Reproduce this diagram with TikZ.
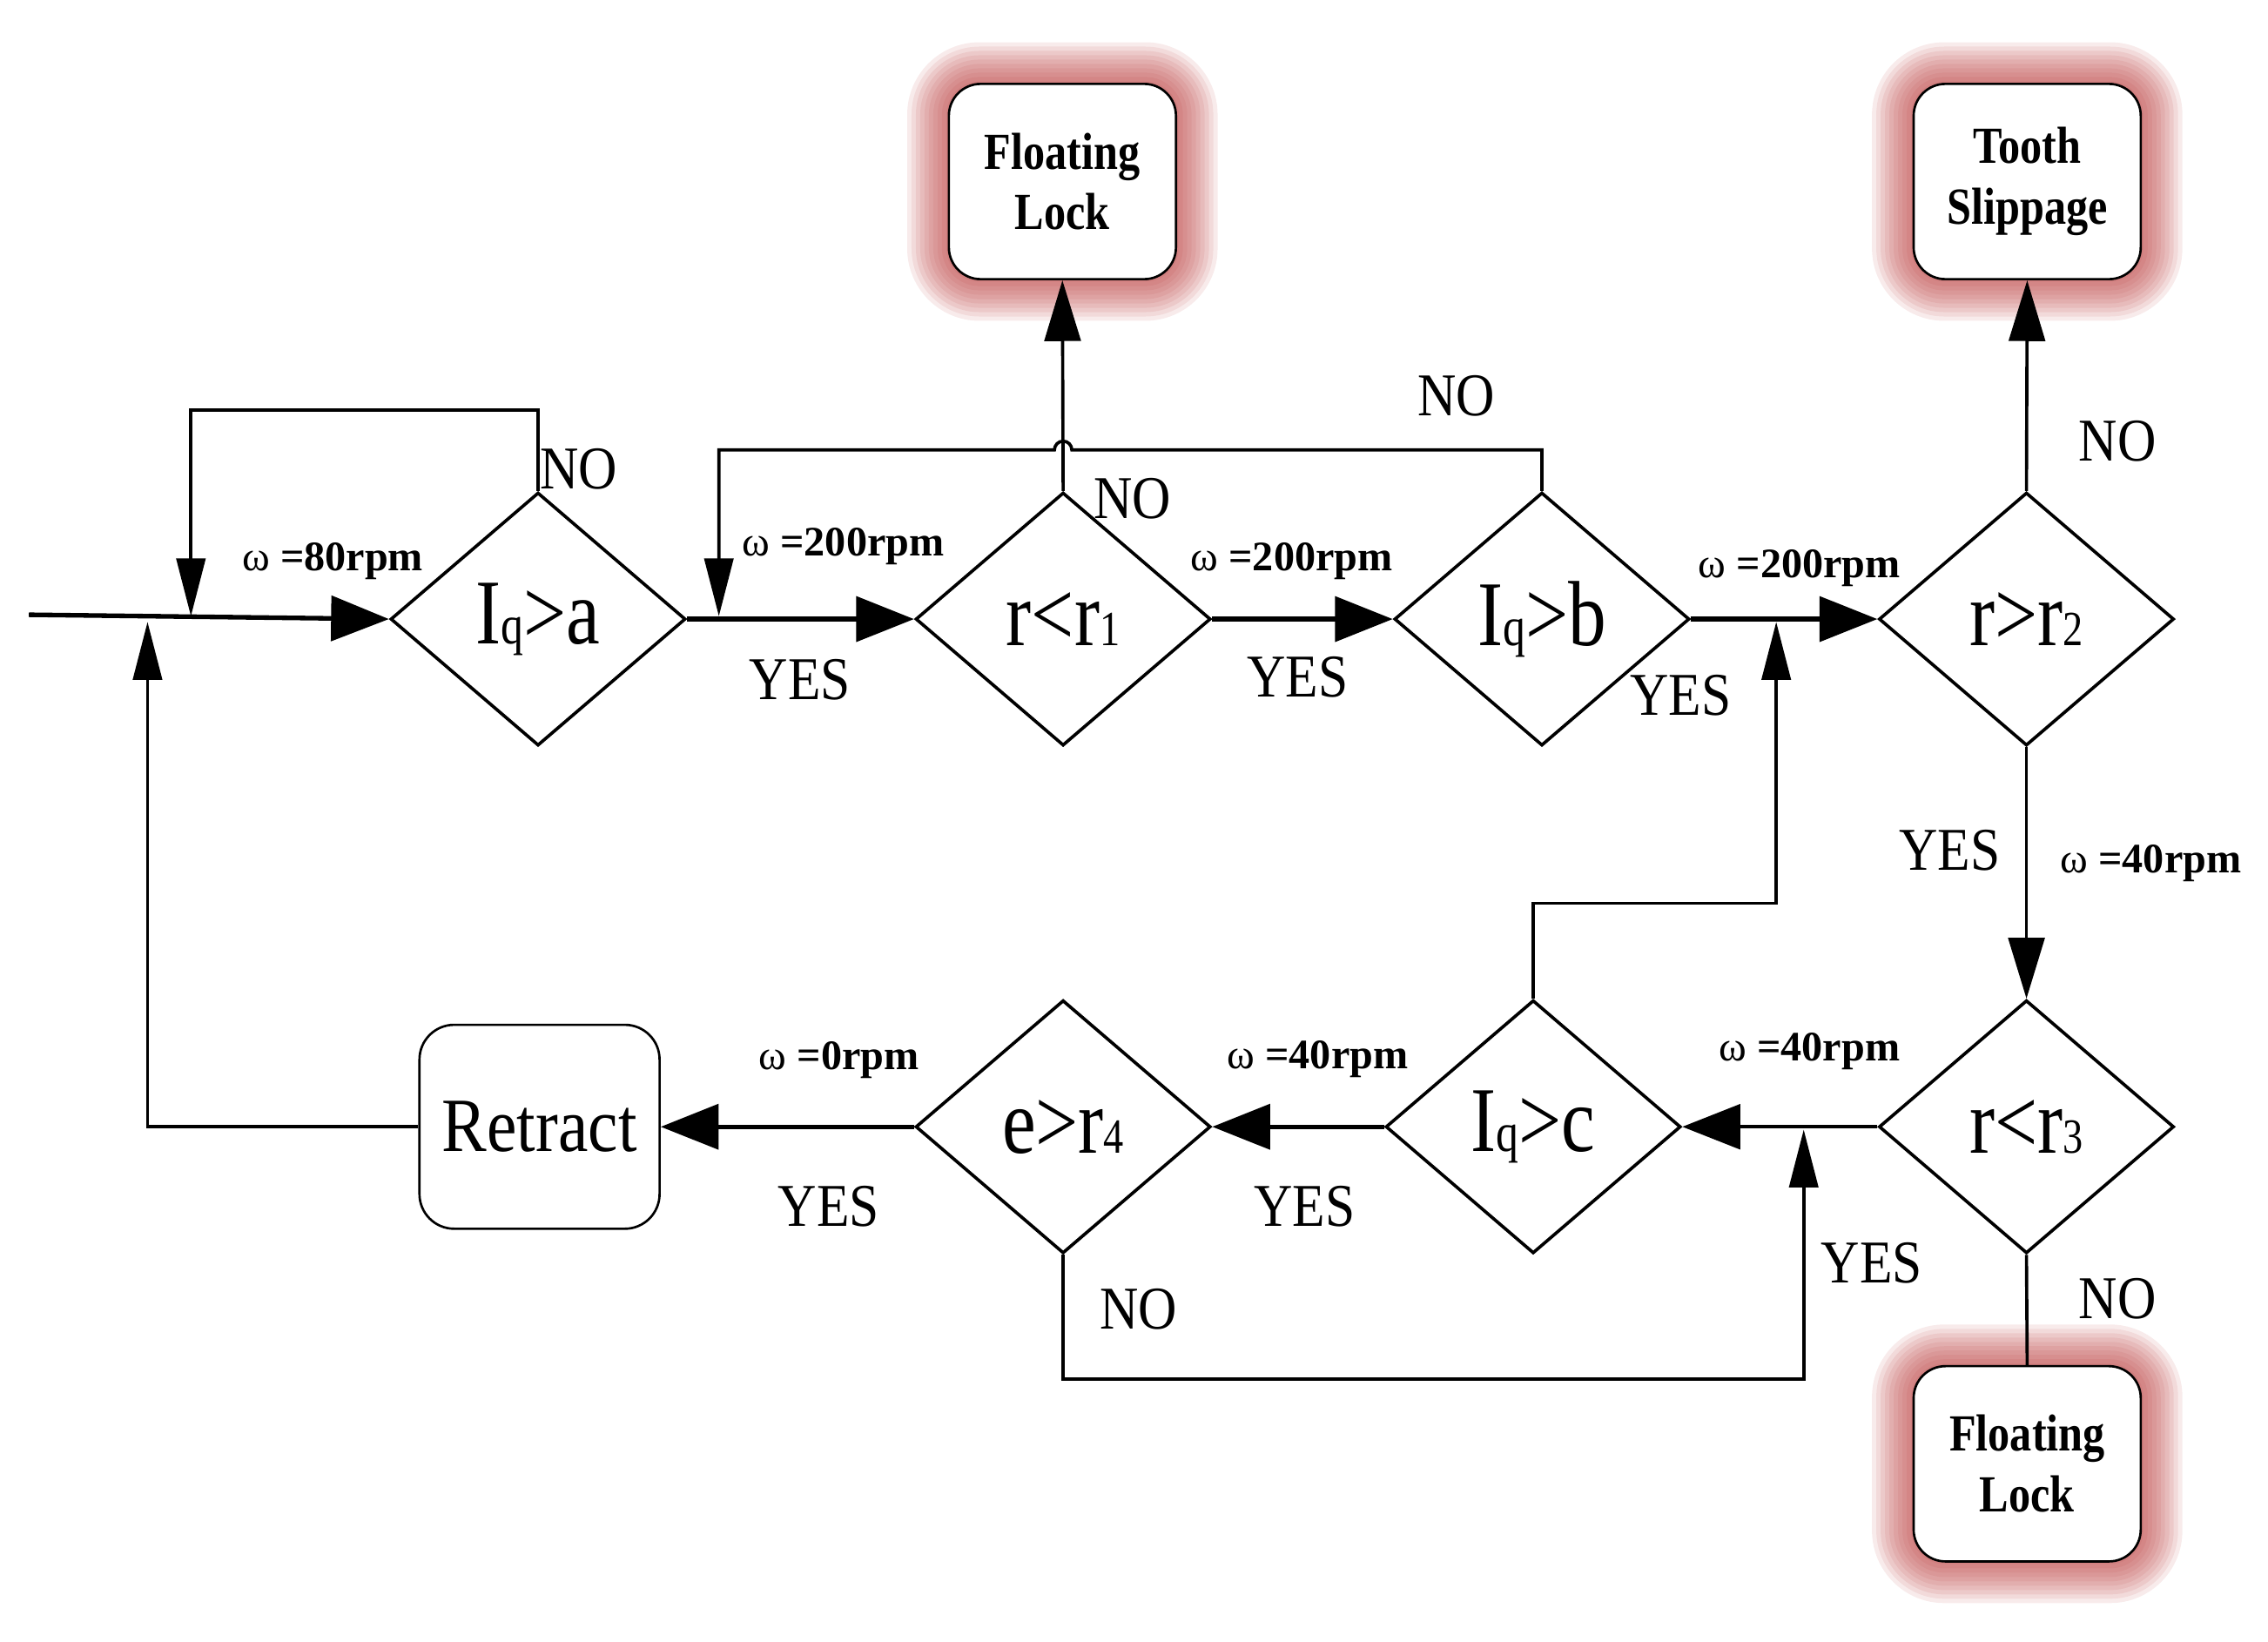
\documentclass[tikz,border=0pt]{standalone}
\usepackage{fontspec}
\setmainfont{Liberation Serif}
\newfontfamily\condfont[FakeStretch=0.88]{Liberation Serif}
\newfontfamily\boxfont[FakeStretch=0.84]{Liberation Serif}
\newfontfamily\decfont[FakeStretch=0.82]{Liberation Serif}
\usetikzlibrary{arrows.meta,shapes.geometric,backgrounds}
\definecolor{glow}{RGB}{185,60,60}
\newcommand{\subq}[1]{{\fontsize{19pt}{20pt}\selectfont #1}}
\newcommand{\subn}[1]{{\fontsize{17pt}{18pt}\selectfont #1}}
\begin{document}
\begin{tikzpicture}[x=0.5pt,y=-0.5pt,
  line/.style={line width=1.1pt},
  mainline/.style={line width=1.6pt},
  arrH/.style={-{Triangle[length=20pt,width=15.5pt]}},
  arrV/.style={-{Triangle[length=21pt,width=12.5pt]}},
  arrS/.style={-{Triangle[length=20pt,width=10pt]}},
  dec/.style={draw, diamond, line width=1.1pt, minimum width=102pt, minimum height=87.5pt, inner sep=0pt, font=\decfont\fontsize{32pt}{34pt}\selectfont},
  endbox/.style={draw, fill=white, line width=0.8pt, rounded corners=11pt, minimum width=78.5pt, minimum height=67.5pt, align=center, inner sep=0pt, font=\boxfont\bfseries\fontsize{18pt}{21pt}\selectfont},
  retbox/.style={draw, fill=white, line width=0.8pt, rounded corners=12pt, minimum width=83pt, minimum height=70.5pt, inner sep=0pt, font=\condfont\fontsize{26.5pt}{28pt}\selectfont},
  lbl/.style={inner sep=0pt, font=\condfont\fontsize{21pt}{22pt}\selectfont},
  rpm/.style={inner sep=0pt, font=\bfseries\fontsize{14.5pt}{15pt}\selectfont}]
\useasboundingbox (0,0) rectangle (1568,1135);

% decisions
\node[dec] (d1) at (372,428) {I\subq{q}>a};
\node[dec] (d2) at (735,428) {r<r\subn{1}};
\node[dec] (d3) at (1066,428) {I\subq{q}>b};
\node[dec] (d4) at (1401,428) {r>r\subn{2}};
\node[dec] (d5) at (1401,779) {r<r\subn{3}};
\node[dec] (d6) at (1060,779) {I\subq{q}>c};
\node[dec] (d7) at (735,779) {e>r\subn{4}};

% end boxes
\node[endbox] (fl1) at (734.5,125.5) {Floating\\Lock};
\node[endbox] (ts) at (1401.5,125.5) {Tooth\\Slippage};
\node[endbox] (fl2) at (1401.5,1012) {Floating\\Lock};
\node[retbox] (retract) at (373,779) {Retract};

\begin{scope}[on background layer]
\foreach \b in {fl1,ts,fl2}{
  \foreach \d [evaluate=\d as \r using 11+\d/2] in {28,25,...,1}{
    \fill[glow,opacity=0.1,rounded corners=\r pt] ([shift={(-\d,-\d)}]\b.north west) rectangle ([shift={(\d,\d)}]\b.south east);
  }
}
\end{scope}

% junction points
\coordinate (start) at (20,425);
\coordinate (j1) at (132,426);
\coordinate (j2) at (497,426);
\coordinate (j3) at (1228,430);
\coordinate (j4) at (1247,781);
\coordinate (j5) at (102,430);

% main flow
\draw[mainline,arrH] (start) -- (d1.west);
\draw[mainline,arrH] (d1.east) -- (d2.west);
\draw[mainline,arrH] (d2.east) -- (d3.west);
\draw[mainline,arrH] (d3.east) -- (d4.west);
\draw[line,arrV] (d2.north) -- (fl1.south);
\draw[line,arrV] (d4.north) -- (ts.south);
\draw[line,arrV] (d4.south) -- (d5.north);
\draw[line] (d5.south) -- (fl2.north);
\draw[line,arrH] (d5.west) -- (d6.east);
\draw[mainline,arrH] (d6.west) -- (d7.east);
\draw[mainline,arrH] (d7.west) -- (retract.east);

% loops
\draw[line,arrS] (d1.north) -- ++(0,-56) -| (j1);
\draw[line,arrS] (d3.north) |- (741,311) arc[start angle=0,end angle=180,radius=3pt] -| (j2);
\draw[line,arrS] (d6.north) -- ++(0,-66) -| (j3);
\draw[line,arrS] (d7.south) -- ++(0,86) -| (j4);
\draw[line,arrS] (retract.west) -| (j5);

% labels
\node[lbl] (n1) at (400,324) {NO};
\node[lbl] (n2) at (783,345) {NO};
\node[lbl] (n3) at (1007,274) {NO};
\node[lbl] (n4) at (1464,305) {NO};
\node[lbl] (n5) at (1464,898) {NO};
\node[lbl] (n6) at (787,905) {NO};
\node[lbl] (y1) at (553,470) {YES};
\node[lbl] (y2) at (897,468) {YES};
\node[lbl] (y3) at (1162,481) {YES};
\node[lbl] (y4) at (1348,588) {YES};
\node[lbl] (y5) at (1294,873) {YES};
\node[lbl] (y6) at (902,834) {YES};
\node[lbl] (y7) at (573,834) {YES};
\node[rpm] (w1) at (230,388) {{\mdseries ω}\ =80rpm};
\node[rpm] (w2) at (583,378) {{\mdseries ω}\ =200rpm};
\node[rpm] (w3) at (893,388) {{\mdseries ω}\ =200rpm};
\node[rpm] (w4) at (1244,393) {{\mdseries ω}\ =200rpm};
\node[rpm] (w5) at (1487,597) {{\mdseries ω}\ =40rpm};
\node[rpm] (w6) at (1251,727) {{\mdseries ω}\ =40rpm};
\node[rpm] (w7) at (911,732) {{\mdseries ω}\ =40rpm};
\node[rpm] (w8) at (580,733) {{\mdseries ω}\ =0rpm};
\end{tikzpicture}
\end{document}
